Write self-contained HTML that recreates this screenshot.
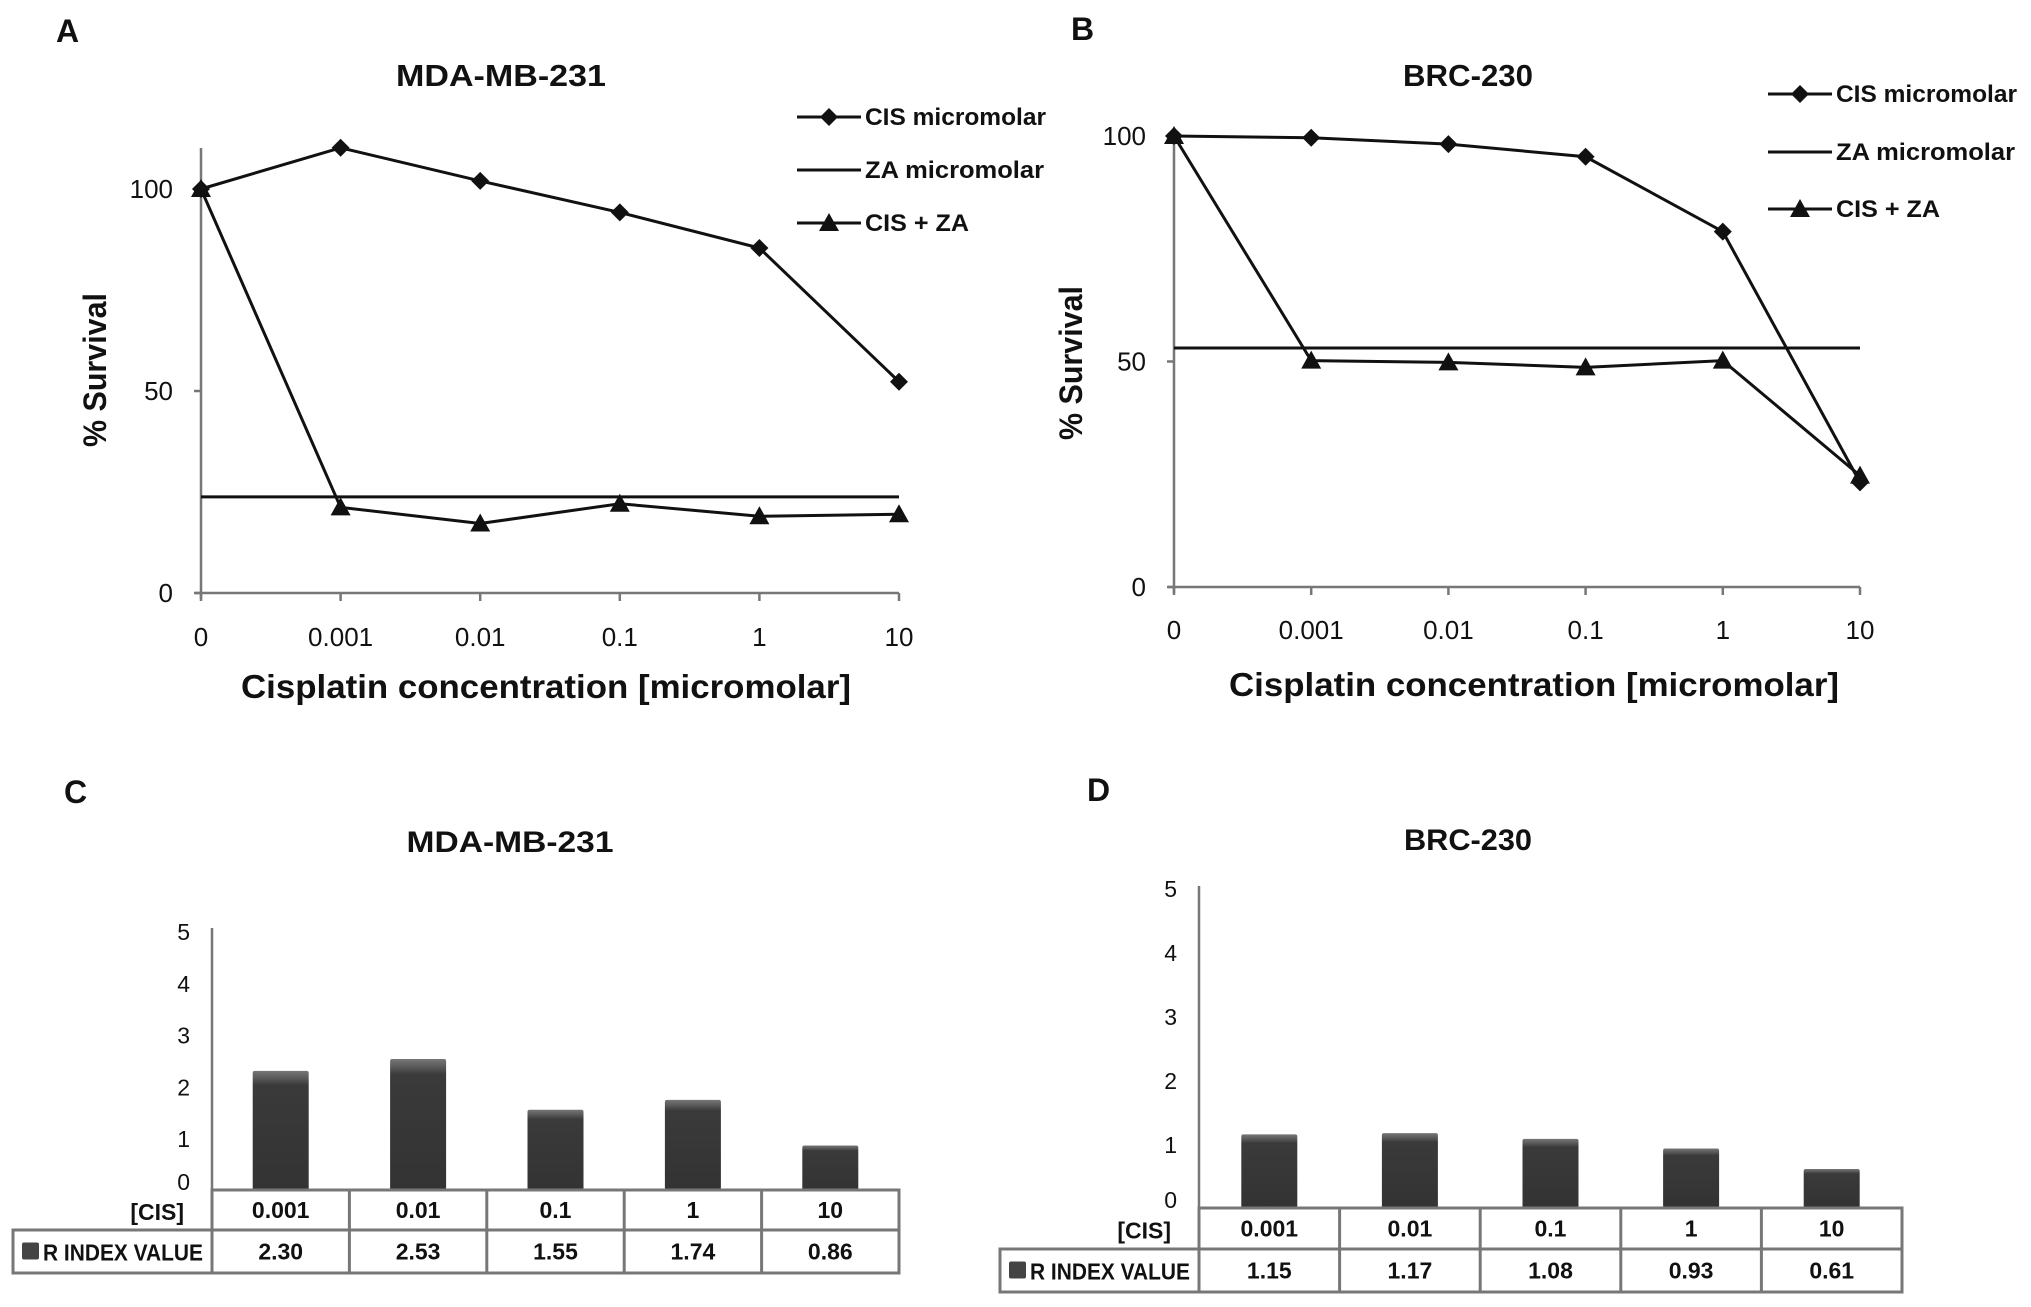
<!DOCTYPE html>
<html><head><meta charset="utf-8"><style>
html,body{margin:0;padding:0;background:#fff;}
svg{display:block;font-family:"Liberation Sans",sans-serif;}
</style></head><body>
<svg id="fig" width="2031" height="1307" viewBox="0 0 2031 1307" xmlns="http://www.w3.org/2000/svg">
<defs>
<linearGradient id="barg" x1="0" y1="0" x2="0" y2="1">
<stop offset="0" stop-color="#777"/><stop offset="0.06" stop-color="#5a5a5a"/><stop offset="0.12" stop-color="#3a3a3a"/><stop offset="1" stop-color="#333"/>
</linearGradient>
</defs>
</svg>
<script>
// ---- data ----
const xCats = ["0","0.001","0.01","0.1","1","10"];
const yTicksLine = [0,50,100];
const aCis = [100,110.2,102,94.2,85.4,52.3];
const aZa = 23.8;
const aCisZa = [100,21.2,17.2,22.1,19,19.5];
const bCis = [100,99.6,98.2,95.4,78.8,23.2];
const bZa = 53;
const bCisZa = [100,50.2,49.8,48.7,50.2,24.7];
const barCats = ["0.001","0.01","0.1","1","10"];
const cVals = [2.30,2.53,1.55,1.74,0.86];
const cLabels = ["2.30","2.53","1.55","1.74","0.86"];
const dVals = [1.15,1.17,1.08,0.93,0.61];
const dLabels = ["1.15","1.17","1.08","0.93","0.61"];
const yTicksBar = [0,1,2,3,4,5];

const svg = document.getElementById('fig');
const NS = "http://www.w3.org/2000/svg";
function mk(tag, attrs){ const e=document.createElementNS(NS,tag); for(const k in attrs) e.setAttribute(k,attrs[k]); svg.appendChild(e); return e; }
function txt(s, x, y, size, bold, anchor, len){
  const e = mk('text',{x:x,y:y,'font-size':size,'font-weight':bold?'bold':'normal','text-anchor':anchor||'start',fill:'#111'});
  if(len){ e.setAttribute('textLength',len); e.setAttribute('lengthAdjust','spacingAndGlyphs'); }
  e.textContent = s; return e;
}
function diamond(x,y,r){ return mk('polygon',{points:`${x},${y-r} ${x+r},${y} ${x},${y+r} ${x-r},${y}`,fill:'#111'}); }
function tri(x,y,r){ return mk('polygon',{points:`${x},${y-r} ${x+r},${y+r*0.8} ${x-r},${y+r*0.8}`,fill:'#111'}); }

function lineChart(p, cis, za, cisza){
  const X = i => p.x0 + i*p.dx;
  const Y = v => p.y0 - v*p.sy;
  let e;
  e = txt(p.letter, p.lx, p.ly, 32, true, 'start');  
  e = txt(p.title, p.tx, p.ty, 31, true, 'middle', p.tw);  
  e = mk('line',{x1:p.x0,y1:p.yTop,x2:p.x0,y2:p.y0+6,stroke:'#777','stroke-width':2.5});  
  e = mk('line',{x1:p.x0-6,y1:p.y0,x2:X(5),y2:p.y0,stroke:'#777','stroke-width':2.5});  
  yTicksLine.forEach(v=>{
    e = mk('line',{x1:p.x0-7,y1:Y(v),x2:p.x0,y2:Y(v),stroke:'#777','stroke-width':2.5});  
    e = txt(String(v), p.x0-28, Y(v)+9, 26, false, 'end');  
  });
  xCats.forEach((c,i)=>{
    e = mk('line',{x1:X(i),y1:p.y0,x2:X(i),y2:p.y0+8,stroke:'#777','stroke-width':2.5});  
    e = txt(c, X(i), p.tly, 26, false, 'middle');  
  });
  e = txt('Cisplatin concentration [micromolar]', p.xtx, p.xty, 33, true, 'middle', 610);  
  e = txt('% Survival', 0, 0, 32, true, 'middle', 154); e.setAttribute('transform',`translate(${p.ytx},${p.yty}) rotate(-90)`);  
  e = mk('line',{x1:X(0),y1:Y(za),x2:X(5),y2:Y(za),stroke:'#111','stroke-width':3});  
  e = mk('polyline',{points:cisza.map((v,i)=>X(i)+','+Y(v)).join(' '),fill:'none',stroke:'#111','stroke-width':3});  
  cisza.forEach((v,i)=>{ e = tri(X(i),Y(v),10);   });
  e = mk('polyline',{points:cis.map((v,i)=>X(i)+','+Y(v)).join(' '),fill:'none',stroke:'#111','stroke-width':3});  
  cis.forEach((v,i)=>{ e = diamond(X(i),Y(v),9);   });
  const lg = [['CIS micromolar','d'],['ZA micromolar','n'],['CIS + ZA','t']];
  lg.forEach((l,k)=>{
    const y = p.legY[k];
    e = mk('line',{x1:p.legX,y1:y,x2:p.legX+64,y2:y,stroke:'#111','stroke-width':3});  
    if(l[1]=='d'){ e = diamond(p.legX+32,y,9);   }
    if(l[1]=='t'){ e = tri(p.legX+32,y,10);   }
    e = txt(l[0], p.legX+68, y+8, 24, true, 'start', l[0].length>10?(k==0?181:179):104);  
  });
}

lineChart({letter:'A',lx:56,ly:42,title:'MDA-MB-231',tx:501,ty:86,tw:210,x0:201,dx:139.6,y0:593,sy:4.04,yTop:148,tly:646,xtx:546,xty:698,ytx:106,yty:370,legX:797,legY:[117,170,223]}, aCis, aZa, aCisZa);
lineChart({letter:'B',lx:1071,ly:40,title:'BRC-230',tx:1468,ty:86,tw:130,x0:1174,dx:137.2,y0:587,sy:4.51,yTop:130,tly:639,xtx:1534,xty:696,ytx:1082,yty:363,legX:1768,legY:[94,152,209]}, bCis, bZa, bCisZa);

function barChart(p, vals, labels){
  const colW = (p.colR - p.x0)/barCats.length;
  const Y = v => p.y0 - v*p.sy;
  let e;
  e = txt(p.letter, p.lx, p.ly, 32, true, 'start');  
  e = txt(p.title, p.tx, p.ty, 30, true, 'middle', p.tw);  
  e = mk('line',{x1:p.x0,y1:p.yTop,x2:p.x0,y2:p.y0,stroke:'#777','stroke-width':2.5});  
  yTicksBar.forEach(v=>{
    e = txt(String(v), p.x0-22, Y(v)+(v==0?0:9), 23, false, 'end');  
  });
  vals.forEach((v,i)=>{
    const cx = p.x0 + colW*(i+0.5);
    e = mk('rect',{x:cx-28,y:Y(v),width:56,height:v*p.sy,fill:'url(#barg)',rx:2});  
  });
  const g='#777';
  e = mk('rect',{x:p.x0,y:p.r1t,width:p.colR-p.x0,height:p.r1b-p.r1t,fill:'none',stroke:g,'stroke-width':3});  
  e = mk('rect',{x:p.r2l,y:p.r2t,width:p.colR-p.r2l,height:p.r2b-p.r2t,fill:'none',stroke:g,'stroke-width':3});  
  e = mk('line',{x1:p.x0,y1:p.r2t,x2:p.x0,y2:p.r2b,stroke:g,'stroke-width':3});  
  barCats.forEach((c,i)=>{
    const cx = p.x0 + colW*(i+0.5);
    if(i>0){ e = mk('line',{x1:p.x0+colW*i,y1:p.r1t,x2:p.x0+colW*i,y2:p.r2b,stroke:g,'stroke-width':3});   }
    e = txt(c, cx, (p.r1t+p.r1b)/2+8, 23, true, 'middle');  
    e = txt(labels[i], cx, (p.r2t+p.r2b)/2+8, 23, true, 'middle');  
  });
  e = txt('[CIS]', p.x0-28, (p.r1t+p.r1b)/2+10, 23, true, 'end');  
  e = mk('rect',{x:p.r2l+9,y:(p.r2t+p.r2b)/2-9,width:17,height:17,fill:'#444',rx:2});  
  e = txt('R INDEX VALUE', p.r2l+30, (p.r2t+p.r2b)/2+9, 23, true, 'start', 160);  
}

barChart({letter:'C',lx:64,ly:803,title:'MDA-MB-231',tx:510,ty:852,tw:207,x0:212,colR:899,y0:1190,sy:51.8,yTop:928,r1t:1190,r1b:1230,r2l:13,r2t:1230,r2b:1273}, cVals, cLabels);
barChart({letter:'D',lx:1087,ly:801,title:'BRC-230',tx:1468,ty:850,tw:128,x0:1199,colR:1902,y0:1208,sy:64,yTop:886,r1t:1208,r1b:1249,r2l:1000,r2t:1249,r2b:1292}, dVals, dLabels);
</script>
</body></html>
